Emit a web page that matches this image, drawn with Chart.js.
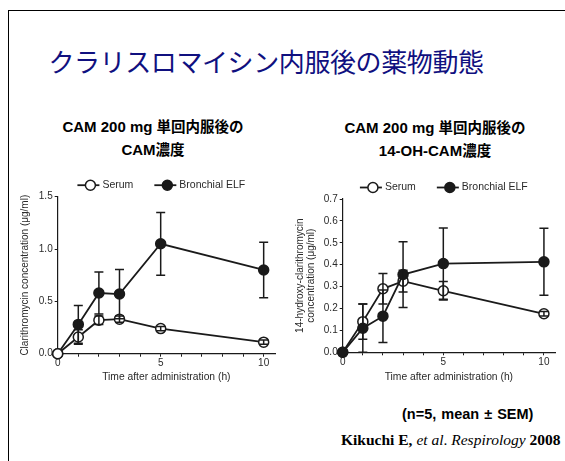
<!DOCTYPE html>
<html lang="ja">
<head>
<meta charset="utf-8">
<script src="https://cdn.jsdelivr.net/npm/chart.js@4"></script>
<style>
  html, body { margin: 0; padding: 0; background: #fff; }
  body { width: 565px; height: 461px; position: relative; overflow: hidden; font-family: 'Liberation Sans', Arial, sans-serif; }
  .frame { position: absolute; left: 8px; top: 10px; width: 600px; height: 500px; border-left: 1.5px solid #000; border-top: 1.5px solid #000; }
  .main-title { position: absolute; left: 0; width: 532px; top: 44px; text-align: center; font-family: 'Noto Sans CJK JP', sans-serif; font-size: 26px; line-height: 34px; color: #10107f; letter-spacing: -0.4px; }
  .sub-title { position: absolute; text-align: center; font-weight: bold; color: #000; line-height: 22px; white-space: nowrap; }
  .sub-title .lat { font-family: 'Liberation Sans', Arial, sans-serif; font-size: 15px; }
  .sub-title .jp { font-family: 'Noto Sans CJK JP', sans-serif; font-size: 14.5px; }
  .box { position: absolute; }
  .note { position: absolute; left: 330px; width: 280px; top: 406px; text-align: left; padding-left: 72px; box-sizing: border-box; font-weight: bold; font-size: 14.5px; white-space: nowrap; word-spacing: 1px; }
  .cite { position: absolute; left: 341px; top: 431px; font-family: 'Liberation Serif', 'Times New Roman', serif; font-size: 15.5px; white-space: nowrap; }
  .cite b { font-weight: bold; }
  .cite i { font-style: italic; }
</style>
</head>
<body>
<div class="frame"></div>
<div class="main-title">クラリスロマイシン内服後の薬物動態</div>

<div class="sub-title" style="left:48px; width:210px; top:115px;">
  <span class="lat">CAM 200 mg </span><span class="jp">単回内服後の</span><br>
  <span class="lat">CAM</span><span class="jp">濃度</span>
</div>
<div class="sub-title" style="left:330px; width:210px; top:116px;">
  <span class="lat">CAM 200 mg </span><span class="jp">単回内服後の</span><br>
  <span class="lat">14-OH-CAM</span><span class="jp">濃度</span>
</div>

<div class="box" style="left:8px; top:160px; width:280px; height:225px;"><canvas id="camChart"></canvas></div>
<div class="box" style="left:288px; top:160px; width:277px; height:225px;"><canvas id="ohChart"></canvas></div>

<div class="note">(n=5, mean ± SEM)</div>
<div class="cite"><b>Kikuchi E, </b><i>et al</i>. <i>Respirology</i> <b>2008</b></div>

<script>
// 時間 (h)
const hours = [0, 1, 2, 3, 5, 10];
const seriesNames = ['Serum', 'Bronchial ELF'];

// CAM 濃度 (μg/ml)
const camSerum = [0, 0.16, 0.32, 0.33, 0.24, 0.11];
const camSerumSem = [0, 0.07, 0.04, 0.03, 0.02, 0.02];
const camBalf = [0, 0.28, 0.58, 0.57, 1.05, 0.80];
const camBalfSem = [0, 0.18, 0.20, 0.235, 0.30, 0.265];

// 14-OH-CAM 濃度 (μg/ml)
const ohSerum = [0, 0.14, 0.29, 0.325, 0.281, 0.176];
const ohSerumSem = [0, 0.08, 0.07, 0.05, 0.042, 0.01];
const ohBalf = [0, 0.11, 0.165, 0.355, 0.405, 0.413];
const ohBalfSem = [0, 0.11, 0.12, 0.15, 0.163, 0.153];

const xTickLabels = [0, 5, 10];
const camYTicks = [0, 0.5, 1.0, 1.5];
const ohYTicks = [0, 0.1, 0.2, 0.3, 0.4, 0.5, 0.6, 0.7];

const INK = '#1a1a1a';
const TXT = '#2a2a2a';

Chart.defaults.font.family = "'Liberation Sans', Arial, sans-serif";
Chart.defaults.color = TXT;

// エラーバー (mean ± SEM)
const errorBars = {
  id: 'errorBars',
  afterDatasetsDraw(chart) {
    const { ctx, scales: { x, y } } = chart;
    ctx.save();
    ctx.strokeStyle = INK;
    ctx.lineWidth = 1.5;
    chart.data.datasets.forEach(ds => {
      ds.sem.forEach((e, i) => {
        if (!e) return;
        const px = x.getPixelForValue(ds.data[i].x);
        const top = y.getPixelForValue(ds.data[i].y + e);
        const bot = y.getPixelForValue(Math.max(0, ds.data[i].y - e));
        ctx.beginPath();
        ctx.moveTo(px, top); ctx.lineTo(px, bot);
        ctx.moveTo(px - 4.5, top); ctx.lineTo(px + 4.5, top);
        ctx.moveTo(px - 4.5, bot); ctx.lineTo(px + 4.5, bot);
        ctx.stroke();
      });
    });
    ctx.restore();
  }
};

// 線＋マーカーの凡例
const lineLegend = {
  id: 'lineLegend',
  afterDraw(chart) {
    const { ctx, chartArea } = chart;
    const dsets = chart.data.datasets.slice().sort((a, b) => a.legendIndex - b.legendIndex);
    ctx.save();
    ctx.font = "10.5px 'Liberation Sans', Arial, sans-serif";
    const widths = dsets.map(d => 25 + ctx.measureText(d.label).width);
    const gap = 21;
    const total = widths.reduce((a, b) => a + b, 0) + gap * (dsets.length - 1);
    let x0 = (chartArea.left + chartArea.right) / 2 - 5 - total / 2;
    const yc = chartArea.top - 11.5;
    dsets.forEach((d, i) => {
      ctx.strokeStyle = INK;
      ctx.lineWidth = 1.8;
      ctx.beginPath();
      ctx.moveTo(x0, yc); ctx.lineTo(x0 + 22, yc);
      ctx.stroke();
      ctx.beginPath();
      ctx.arc(x0 + 13, yc, 5, 0, Math.PI * 2);
      ctx.fillStyle = d.pointBackgroundColor;
      ctx.fill();
      ctx.lineWidth = 1.5;
      ctx.stroke();
      ctx.fillStyle = TXT;
      ctx.textBaseline = 'middle';
      ctx.fillText(d.label, x0 + 25, yc);
      x0 += widths[i] + gap;
    });
    ctx.restore();
  }
};

function makeDataset(label, values, sem, open, order, legendIndex) {
  return {
    label: label,
    data: hours.map((h, i) => ({ x: h, y: values[i] })),
    sem: sem,
    legendIndex: legendIndex,
    order: order,
    borderColor: INK,
    borderWidth: 1.8,
    pointRadius: 5,
    pointBorderWidth: 1.5,
    pointBorderColor: INK,
    pointBackgroundColor: open ? '#fff' : INK,
    tension: 0,
    clip: false
  };
}

function makeChart(id, datasets, yMax, yStep, yTitle, yWidth, padTop, padRight, xHeight, yTitlePad) {
  return new Chart(document.getElementById(id), {
    type: 'line',
    data: { datasets: datasets },
    options: {
      responsive: true,
      maintainAspectRatio: false,
      animation: false,
      layout: { padding: { top: padTop, right: padRight, left: 0, bottom: 0 } },
      plugins: { legend: { display: false }, tooltip: { enabled: false } },
      scales: {
        x: {
          type: 'linear',
          min: 0,
          max: 10.55,
          border: { display: true, color: INK, width: 1.2 },
          grid: { drawOnChartArea: false, color: INK, tickLength: 3 },
          ticks: {
            stepSize: 1,
            includeBounds: false,
            padding: 1,
            autoSkip: false,
            maxRotation: 0,
            font: { size: 10 },
            callback: v => (xTickLabels.includes(v) ? String(v) : '')
          },
          title: { display: true, text: 'Time after administration (h)', font: { size: 10.3 }, padding: { top: 0, bottom: 2 } },
          afterFit: s => { s.height = xHeight; }
        },
        y: {
          min: 0,
          max: yMax,
          border: { display: true, color: INK, width: 1.2 },
          grid: { drawOnChartArea: false, color: INK, tickLength: 3 },
          ticks: { stepSize: yStep, padding: 2, font: { size: 10 }, callback: v => v.toFixed(1) },
          title: { display: true, text: yTitle, font: { size: 10, lineHeight: 1.1 }, padding: { top: yTitlePad, bottom: 0 } },
          afterFit: s => { s.width = yWidth; }
        }
      }
    },
    plugins: [errorBars, lineLegend]
  });
}

makeChart('camChart', [
  makeDataset(seriesNames[0], camSerum, camSerumSem, true, 0, 0),
  makeDataset(seriesNames[1], camBalf, camBalfSem, false, 1, 1)
], camYTicks[camYTicks.length - 1], 0.5, 'Clarithromycin concentration (μg/ml)', 49.7, 36.7, 13, 31.3, 11.5);

makeChart('ohChart', [
  makeDataset(seriesNames[0], ohSerum, ohSerumSem, true, 1, 0),
  makeDataset(seriesNames[1], ohBalf, ohBalfSem, false, 0, 1)
], ohYTicks[ohYTicks.length - 1], 0.1, ['14-hydroxy-clarithromycin', 'concentration (μg/ml)'], 54.7, 39, 10, 32.7, 6.5);
</script>
</body>
</html>
